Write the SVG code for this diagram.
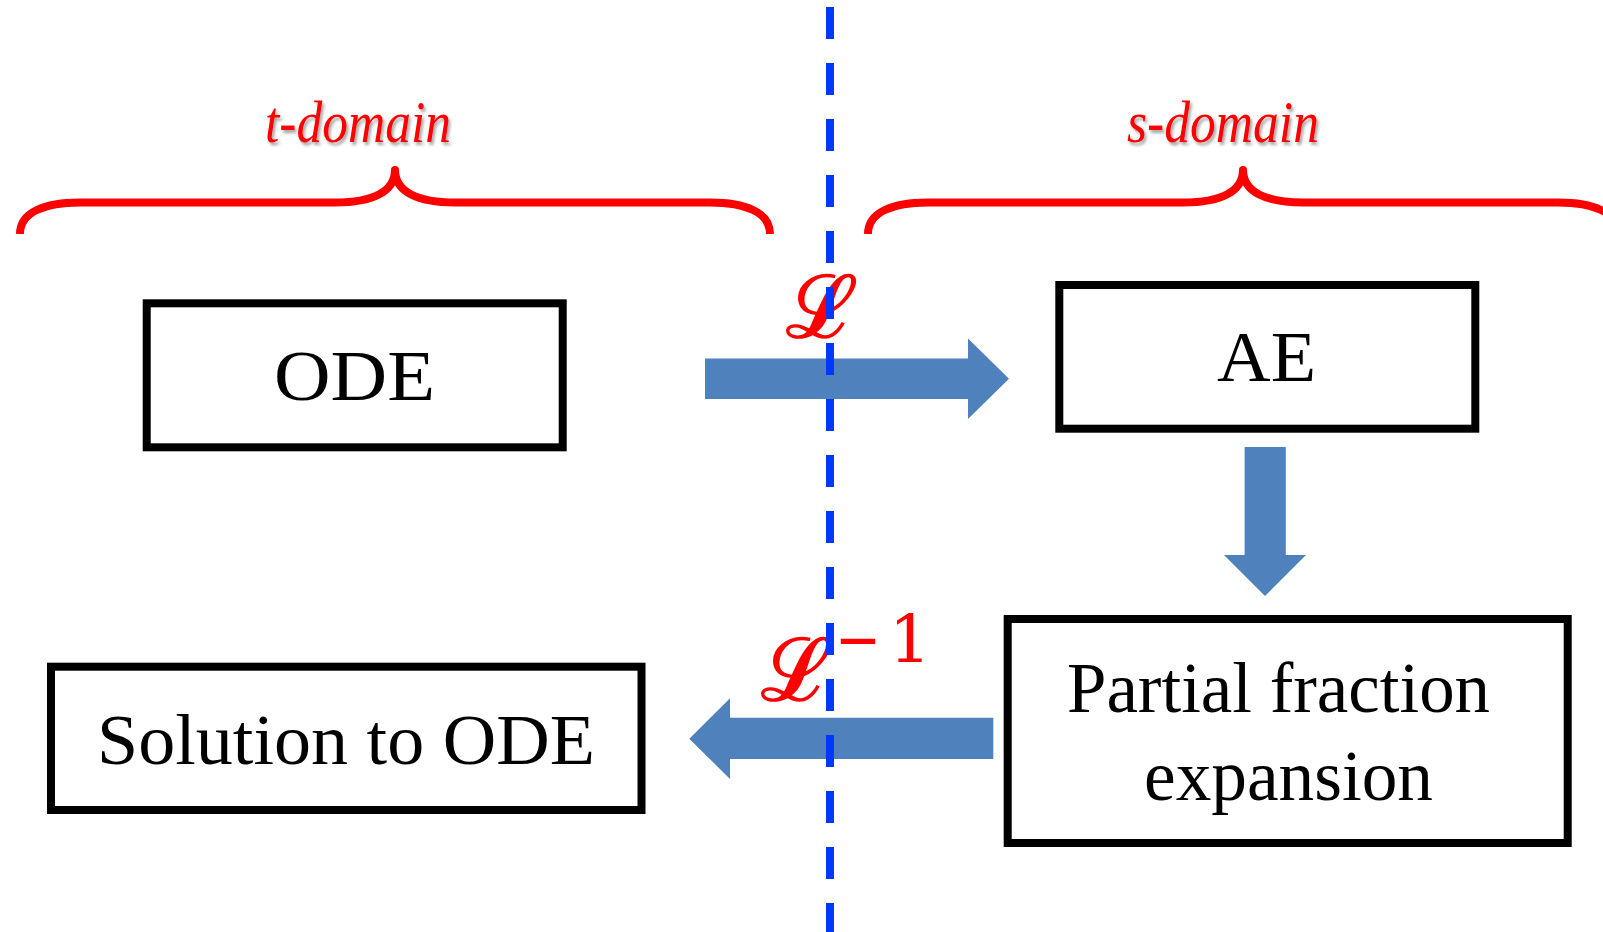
<svg xmlns="http://www.w3.org/2000/svg" width="1603" height="932" viewBox="0 0 1603 932">
<defs>
<filter id="shadow" x="-10%" y="-20%" width="130%" height="160%">
<feDropShadow dx="2" dy="3" stdDeviation="1.5" flood-color="#000" flood-opacity="0.35"/>
</filter>
</defs>
<style>
.box{fill:#fff;stroke:#000;stroke-width:8}
.lbl{font-family:"Liberation Serif",serif;font-size:71px;fill:#000}
.dom{font-family:"Liberation Serif",serif;font-style:italic;font-size:60px;fill:#ff0000}
.brace{fill:none;stroke:#ff0000;stroke-width:8;stroke-linejoin:round}
.arrow{fill:#4f81bd}
.lap{font-family:"DejaVu Serif",serif;font-size:86px;fill:#ff0000;stroke:#ff0000;stroke-width:1.8}
.sup{font-family:"DejaVu Serif",serif;font-size:66px;fill:#ff0000}
</style>
<rect width="1603" height="932" fill="#fff"/>
<g id="t-domain">
<path class="brace" d="M20,234 C20,212 45,202.5 80,202.5 L335,202.5 C372,202.5 395,192 395,170 C395,192 418,202.5 455,202.5 L710,202.5 C745,202.5 770,212 770,234"/>
<text class="dom" x="265" y="142" textLength="186" lengthAdjust="spacingAndGlyphs" filter="url(#shadow)">t-domain</text>
</g>
<g id="s-domain">
<path class="brace" d="M868,234 C868,212 893,202.5 928,202.5 L1183,202.5 C1220,202.5 1243,192 1243,170 C1243,192 1266,202.5 1303,202.5 L1558,202.5 C1593,202.5 1618,212 1618,234"/>
<text class="dom" x="1127" y="142" textLength="192" lengthAdjust="spacingAndGlyphs" filter="url(#shadow)">s-domain</text>
</g>
<g id="ode">
<rect class="box" x="146.7" y="303.3" width="416" height="144"/>
<text class="lbl" x="274" y="400" textLength="161" lengthAdjust="spacingAndGlyphs">ODE</text>
</g>
<g id="ae">
<rect class="box" x="1059.3" y="285" width="416" height="143.7"/>
<text class="lbl" x="1217" y="381" textLength="99" lengthAdjust="spacingAndGlyphs">AE</text>
</g>
<g id="pfe">
<rect class="box" x="1007.7" y="619" width="560" height="224"/>
<text class="lbl" x="1067" y="712" textLength="423" lengthAdjust="spacingAndGlyphs">Partial fraction</text>
<text class="lbl" x="1144" y="800" textLength="289" lengthAdjust="spacingAndGlyphs">expansion</text>
</g>
<g id="solution">
<rect class="box" x="51" y="666.7" width="590.5" height="143.3"/>
<text class="lbl" x="97" y="763.5" textLength="498" lengthAdjust="spacingAndGlyphs">Solution to ODE</text>
</g>
<g id="connectors">
<path class="arrow" d="M705,358.5 L968,358.5 L968,338.5 L1009,378.7 L968,419 L968,399 L705,399 Z"/>
<path class="arrow" d="M1244.6,447 L1285.8,447 L1285.8,555 L1306,555 L1265,596 L1224,555 L1244.6,555 Z"/>
<path class="arrow" d="M993.3,717.7 L730,717.7 L730,698.3 L689.3,738.7 L730,779 L730,759 L993.3,759 Z"/>
<text class="lap" x="786" y="337">ℒ</text>
<text class="lap" x="761" y="700">ℒ</text>
<text class="sup" y="662"><tspan x="835" textLength="46" lengthAdjust="spacingAndGlyphs">−</tspan><tspan x="889">1</tspan></text>
</g>
<g id="divider">
<line x1="830" y1="7" x2="830" y2="932" stroke="#0037ff" stroke-width="8" stroke-dasharray="32 24"/>
</g>
</svg>
